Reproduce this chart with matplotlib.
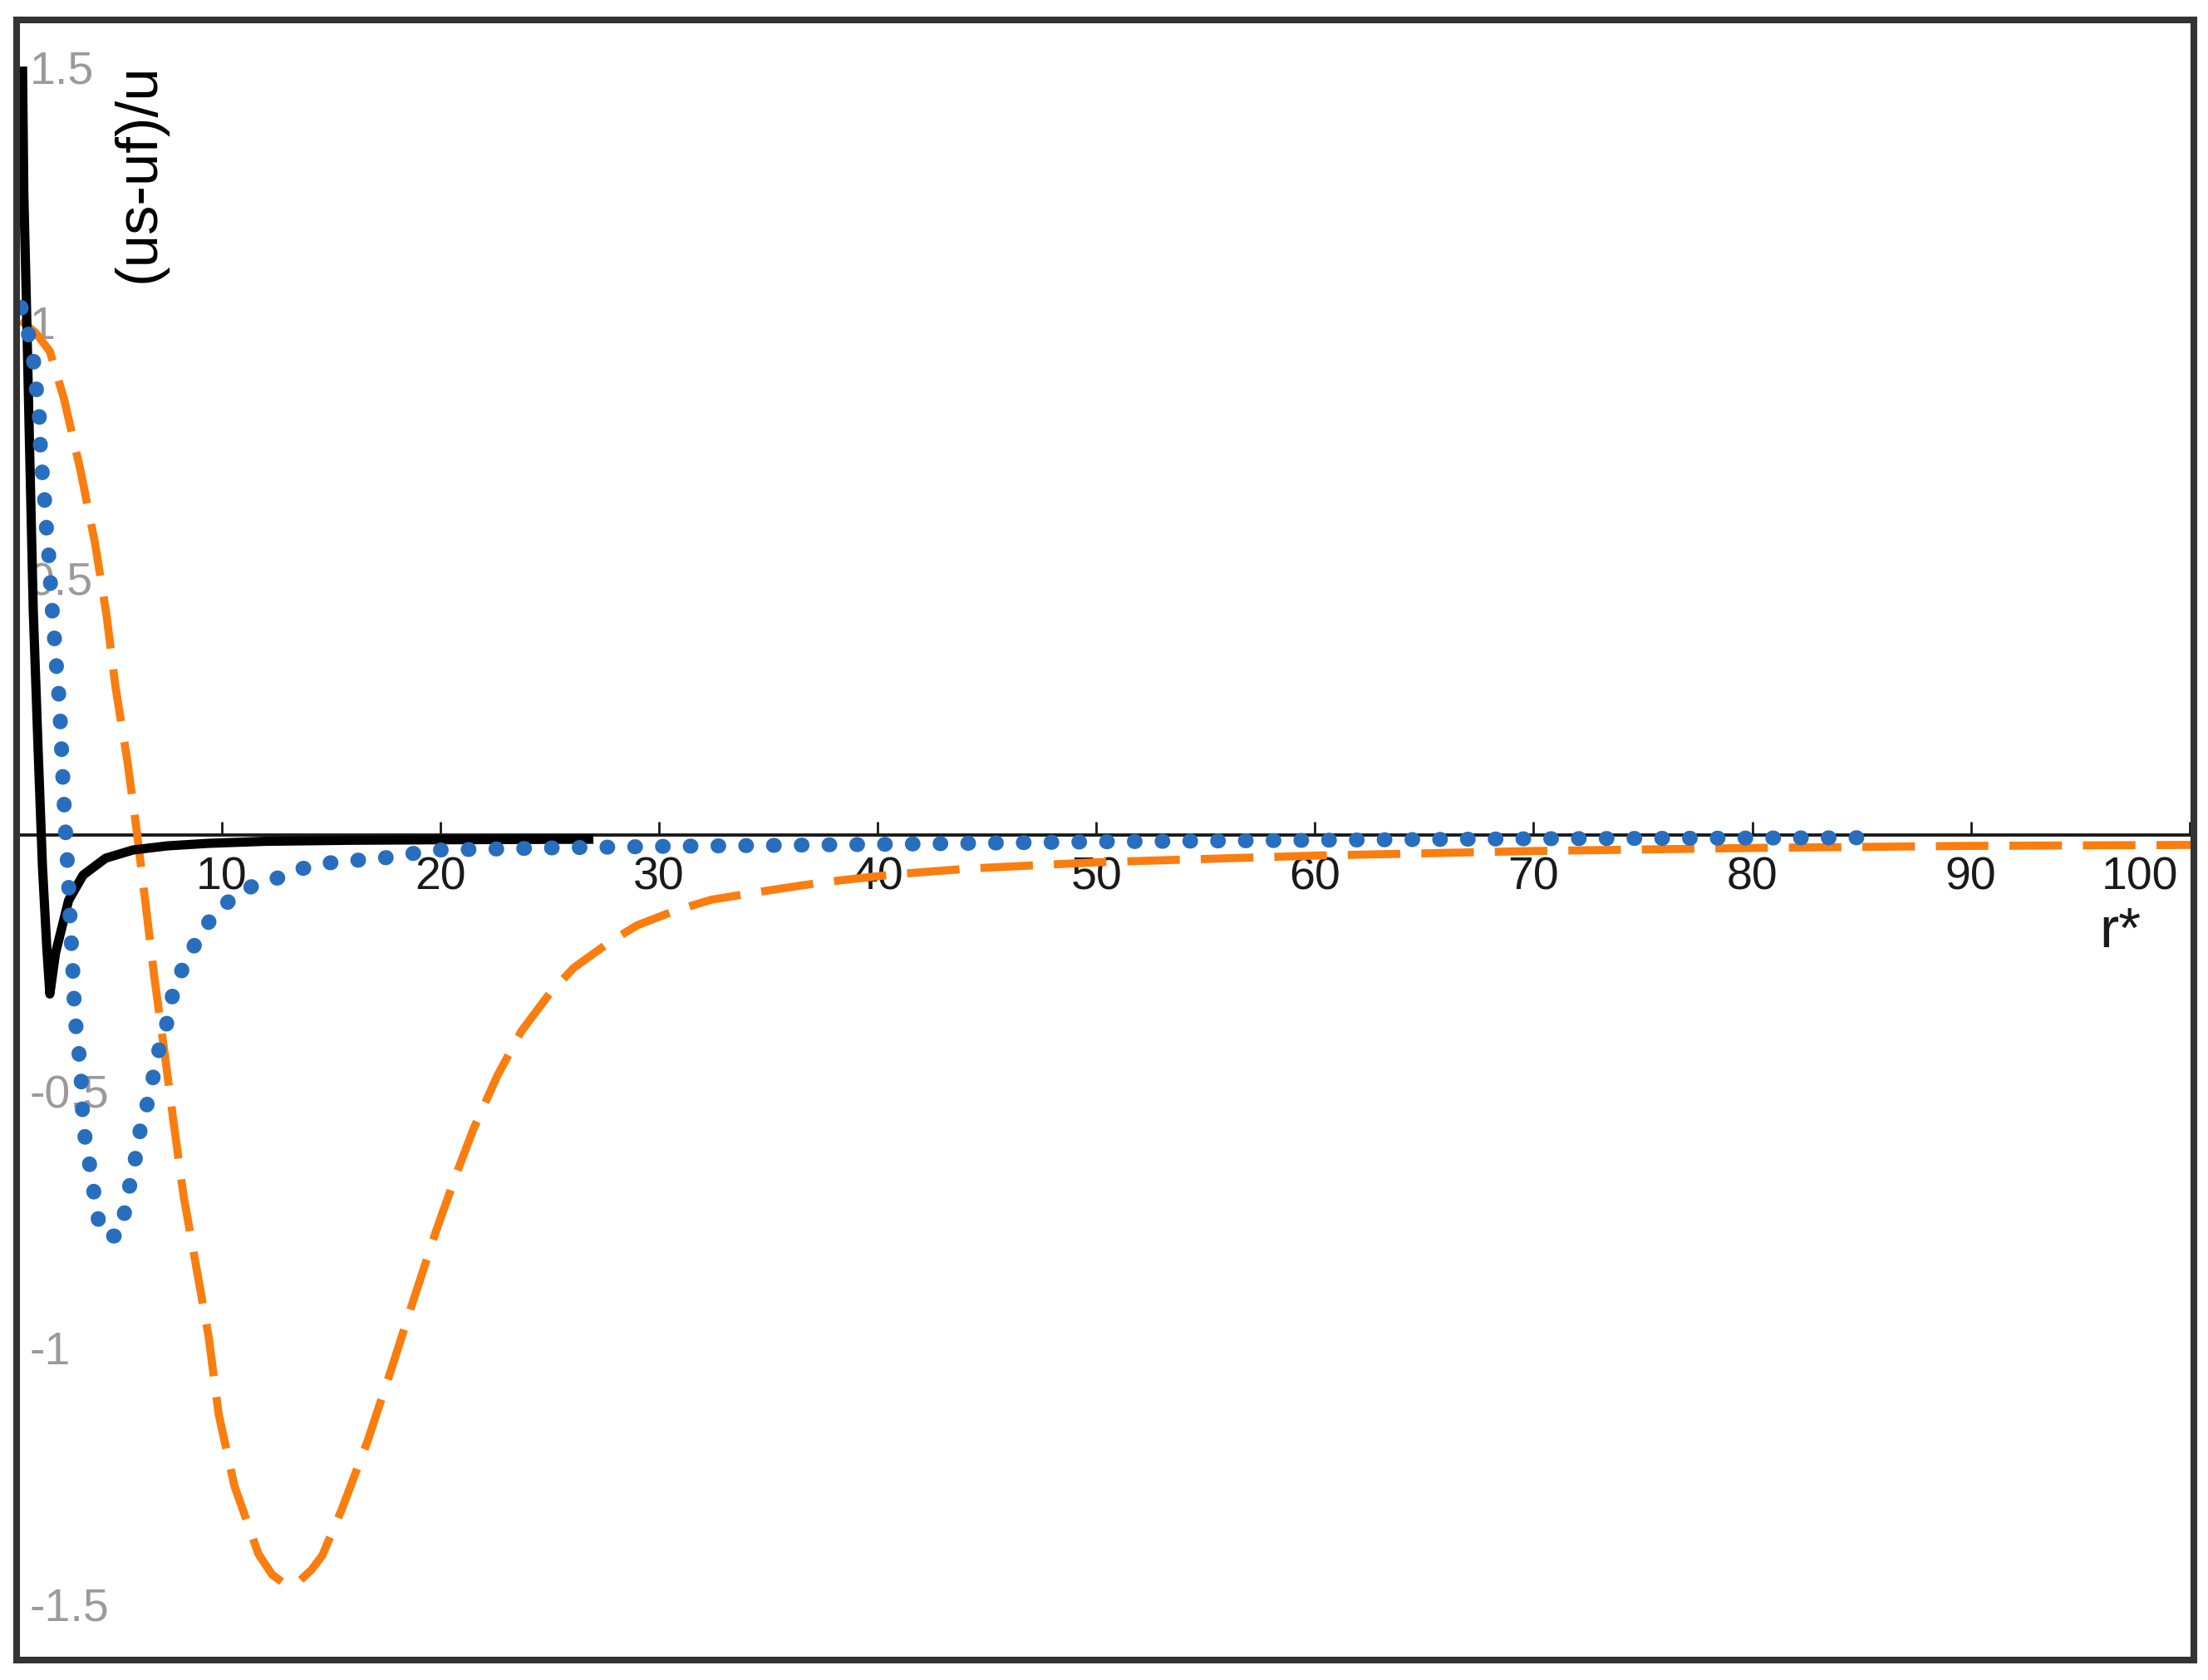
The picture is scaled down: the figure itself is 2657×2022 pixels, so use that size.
import matplotlib
matplotlib.use("Agg")
import matplotlib.pyplot as plt
from matplotlib.transforms import ScaledTranslation

plt.rcParams['font.family'] = ['Liberation Sans', 'DejaVu Sans']

# data
r_black = [0.89, 0.95, 1.04, 1.2, 1.38, 1.6, 1.8, 2.0, 2.14, 2.4, 3.0, 3.66,
           4.69, 5.94, 7.5, 9.4, 12, 16, 20, 27]
v_black = [1.5, 1.25, 1.09, 0.78, 0.44, 0.17, -0.06, -0.22, -0.31, -0.23, -0.127, -0.078,
           -0.045, -0.029, -0.021, -0.016, -0.012, -0.01, -0.009, -0.008]

r_blue = [0.82, 1.12, 1.38, 1.5, 1.65, 1.69, 1.76, 1.88, 1.95, 2.07, 2.14, 2.22, 2.33,
          2.41, 2.52, 2.6, 2.71, 2.83, 2.98, 3.09, 3.17, 3.28, 3.55, 3.66, 3.85, 4.08,
          4.23, 4.5, 4.8, 5.26, 5.6, 5.83, 6.1, 6.3, 6.63, 6.9, 7.16, 7.54, 7.77, 8.22,
          8.8, 9.48, 10.3, 11.38, 12.6, 13.7, 14.95, 16.2, 17.5, 18.7, 20.0, 21.3, 25,
          30, 40, 50, 60, 70, 85]
v_blue = [1.03, 0.986, 0.932, 0.879, 0.827, 0.773, 0.722, 0.668, 0.616, 0.559, 0.511,
          0.454, 0.397, 0.345, 0.292, 0.24, 0.133, 0.028, -0.081, -0.186, -0.243, -0.352,
          -0.457, -0.564, -0.619, -0.67, -0.726, -0.777, -0.783, -0.782, -0.73, -0.675,
          -0.621, -0.568, -0.519, -0.465, -0.413, -0.36, -0.308, -0.259, -0.211, -0.165,
          -0.13, -0.1, -0.083, -0.065, -0.054, -0.049, -0.044, -0.036, -0.029, -0.028,
          -0.025, -0.022, -0.018, -0.013, -0.01, -0.007, -0.005]

r_orange = [0.81, 1.5, 2.14, 2.79, 3.55, 4.2, 4.73, 5.15, 5.68, 6.1, 6.52, 6.93, 7.39,
            7.81, 8.26, 9.4, 9.86, 10.58, 11.68, 12.3, 12.9, 13.5, 14.1, 14.6, 15.5,
            16.66, 17.73, 18.75, 19.8, 20.77, 21.5, 22.6, 23.7, 25, 26.1, 27.7, 29, 30.7,
            32.4, 35, 37.5, 40.9, 44.3, 50, 60, 70, 80, 90, 100.5]
v_orange = [1.005, 0.98, 0.944, 0.851, 0.71, 0.571, 0.43, 0.287, 0.146, 0.013, -0.135,
            -0.281, -0.426, -0.564, -0.705, -0.978, -1.13, -1.27, -1.403, -1.443, -1.462,
            -1.458, -1.434, -1.406, -1.315, -1.184, -1.046, -0.91, -0.773, -0.657, -0.575,
            -0.47, -0.383, -0.309, -0.259, -0.21, -0.176, -0.148, -0.126, -0.108, -0.092,
            -0.076, -0.065, -0.053, -0.04, -0.031, -0.025, -0.021, -0.019]

x_ticks = [10, 20, 30, 40, 50, 60, 70, 80, 90, 100]
y_ticks = [-1.5, -1, -0.5, 0.5, 1, 1.5]
y_ticklabels = ['-1.5', '-1', '-0.5', '0.5', '1', '1.5']

fig = plt.figure(figsize=(26.57, 20.22), dpi=100)
rect = [0.00753, 0.01187, 0.98607, 0.97626]

ax = fig.add_axes(rect, zorder=1)
ax.set_xlim(0.62, 100.2)
ax.set_ylim(-1.61, 1.591)

ax.plot(r_orange, v_orange, color='#fa7d0f', lw=7, ls=(0, (6.5, 2.6)), zorder=3)
ax.plot(r_black, v_black, color='black', lw=8, zorder=4, solid_capstyle='butt')
ax.plot(r_blue, v_blue, color='#286ebe', lw=13, ls=(0, (0.05, 1.8)),
        dash_capstyle='round', zorder=5)

# x axis sits on y = 0
for side in ['left', 'right', 'top']:
    ax.spines[side].set_visible(False)
ax.spines['bottom'].set_position(('data', 0))
ax.spines['bottom'].set_linewidth(2.8)
ax.spines['bottom'].set_color('#1a1a1a')
ax.set_xticks(x_ticks)
ax.set_xticklabels([str(t) for t in x_ticks])
ax.tick_params(axis='x', direction='in', length=11.5, width=2, color='#1a1a1a',
               labelsize=40, labelcolor='#1a1a1a', pad=18)
last = ax.get_xticklabels()[-1]
last.set_horizontalalignment('right')
last.set_transform(last.get_transform() + ScaledTranslation(-0.14, 0, fig.dpi_scale_trans))

ax.set_yticks(y_ticks)
ax.set_yticklabels(y_ticklabels)
ax.tick_params(axis='y', length=0, pad=-11, labelsize=40, labelcolor='#9a9a9a')
for lab in ax.get_yticklabels():
    lab.set_horizontalalignment('left')

fig.text(168 / 2657, 1 - 208 / 2022, '(us-uf)/u', rotation=90, ha='center', va='center',
         fontsize=51, color='black')
fig.text(2526 / 2657, 1 - 1140 / 2022, 'r*', ha='left', va='baseline',
         fontsize=50, color='#1a1a1a')

# outer frame
frame = fig.add_axes(rect, zorder=2)
frame.patch.set_visible(False)
frame.set_xticks([])
frame.set_yticks([])
for s in frame.spines.values():
    s.set_linewidth(5.8)
    s.set_color('#333333')

fig.savefig('out.png', dpi=100, facecolor='white')
